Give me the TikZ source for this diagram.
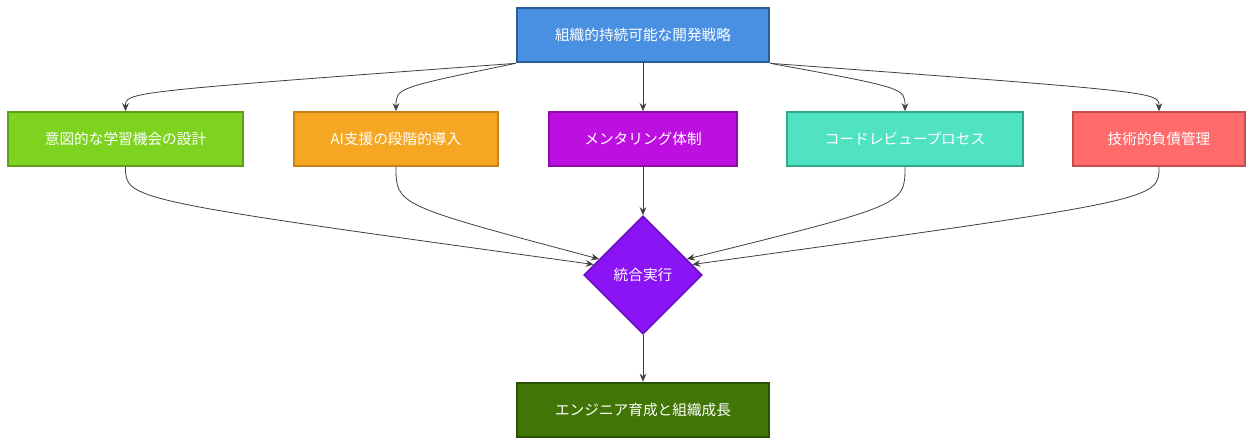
\documentclass[tikz,border=0pt]{standalone}
\usepackage{fontspec}
\setmainfont{Noto Sans CJK JP}
\usetikzlibrary{shapes.geometric,arrows.meta}
\definecolor{topc}{HTML}{4A90E2}
\definecolor{topd}{HTML}{2A5D95}
\definecolor{ac}{HTML}{7ED321}
\definecolor{ad}{HTML}{5E9E18}
\definecolor{bc}{HTML}{F5A623}
\definecolor{bd}{HTML}{C4841A}
\definecolor{cc}{HTML}{BD10E0}
\definecolor{cd}{HTML}{8E0CA8}
\definecolor{dc}{HTML}{50E3C2}
\definecolor{dd}{HTML}{2FA88C}
\definecolor{ec}{HTML}{FF6B6B}
\definecolor{ed}{HTML}{C84E4E}
\definecolor{mc}{HTML}{8B14F5}
\definecolor{md}{HTML}{6A0FC0}
\definecolor{fc}{HTML}{417505}
\definecolor{fd}{HTML}{2B5203}
\begin{document}
\begin{tikzpicture}[x=0.75pt,y=-0.75pt,
    box/.style={draw,line width=1.2pt,minimum height=40.5pt,text=white,font=\fontsize{11}{13}\selectfont,inner sep=0pt},
    arr/.style={-{Stealth[length=6pt,width=5pt]},draw=black!75,line width=0.6pt}]
  \useasboundingbox[fill=white] (0,0) rectangle (1253,446);
  \node[box,fill=topc,draw=topd,line width=2pt,minimum width=189pt] (top) at (643,35) {組織的持続可能な開発戦略};
  \node[box,fill=ac,draw=ad,minimum width=176pt] (learn) at (125.5,139) {意図的な学習機会の設計};
  \node[box,fill=bc,draw=bd,minimum width=153pt] (ai) at (396,139) {AI支援の段階的導入};
  \node[box,fill=cc,draw=cd,minimum width=141pt] (mentor) at (643,139) {メンタリング体制};
  \node[box,fill=dc,draw=dd,minimum width=177pt] (review) at (905,139) {コードレビュープロセス};
  \node[box,fill=ec,draw=ed,minimum width=129pt] (debt) at (1159,139) {技術的負債管理};
  \node[diamond,draw=md,fill=mc,line width=1.2pt,minimum width=88.5pt,minimum height=88.5pt,inner sep=0pt,text=white,font=\fontsize{11}{13}\selectfont] (exec) at (643,275) {統合実行};
  \node[box,fill=fc,draw=fd,line width=2pt,minimum width=189pt] (grow) at (643,410) {エンジニア育成と組織成長};

  \draw[arr] (top.south west) .. controls (125.5,92) .. (learn.north);
  \draw[arr] (top.south west) .. controls (396,88) .. (ai.north);
  \draw[arr] (top.south) -- (mentor.north);
  \draw[arr] (top.south east) .. controls (905,88) .. (review.north);
  \draw[arr] (top.south east) .. controls (1159,92) .. (debt.north);

  \draw[arr] (learn.south) .. controls (125.5,200) .. (exec.168);
  \draw[arr] (ai.south) .. controls (396,205) .. (exec.160);
  \draw[arr] (mentor.south) -- (exec.north);
  \draw[arr] (review.south) .. controls (905,205) .. (exec.20);
  \draw[arr] (debt.south) .. controls (1159,200) .. (exec.12);
  \draw[arr] (exec.south) -- (grow.north);
\end{tikzpicture}
\end{document}
